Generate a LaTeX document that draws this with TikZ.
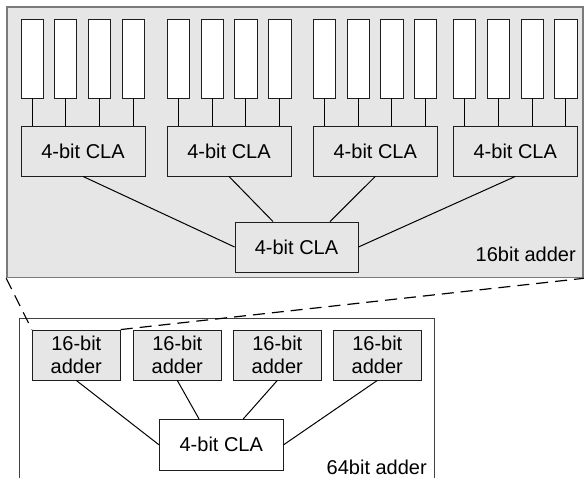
\documentclass[tikz,border=0pt]{standalone}
\usepackage{fontspec}
\setmainfont{Liberation Sans}
\usetikzlibrary{calc}
\definecolor{boxfill}{HTML}{E6E6E6}
\definecolor{outerline}{HTML}{7A7A7A}
\definecolor{darkline}{HTML}{1E1E1E}
\tikzset{
  bit/.style={draw=darkline, line width=0.9pt, fill=white, minimum width=22.5pt, minimum height=79pt, inner sep=0pt},
  cla/.style={draw=darkline, line width=0.9pt, fill=boxfill, minimum width=124pt, minimum height=50pt, inner sep=0pt, font=\fontsize{20}{23}\selectfont},
  midcla/.style={cla, minimum width=123pt},
  lowcla/.style={cla, fill=white, minimum height=50.7pt},
  adder/.style={draw=darkline, line width=0.9pt, fill=boxfill, minimum width=88pt, minimum height=50pt, inner sep=0pt, align=center, font=\fontsize{20}{23.4}\selectfont},
  wire/.style={line width=1pt, black},
  zoomline/.style={line width=1.2pt, black, dash pattern=on 12pt off 7pt},
  lbl/.style={inner sep=0pt, font=\fontsize{20}{23}\selectfont},
}
\begin{document}
\begin{tikzpicture}[x=1pt, y=-1pt]
\useasboundingbox (0,0) rectangle (584,478);
\fill[white] (0,0) rectangle (584,478);
% outer 16bit adder box
\node[draw=outerline, line width=1.6pt, fill=boxfill, minimum width=576pt, minimum height=270.5pt, inner sep=0pt] (outer) at (295,142.25) {};
% bit cells
\foreach \g/\xs in {1/{21,54.3,88.3,122.3}, 2/{167,201,234.7,268.7}, 3/{313.3,347,380.7,414.3}, 4/{453.3,487,521,554.7}} {
  \foreach \x [count=\i] in \xs {
    \node[bit] (b\g\i) at (\x+11.25,58.5) {};
  }
}
% 4-bit CLAs
\node[cla] (c1) at (83,151) {4-bit CLA};
\node[cla] (c2) at (229,151) {4-bit CLA};
\node[cla] (c3) at (375.3,151) {4-bit CLA};
\node[cla] (c4) at (515.3,151) {4-bit CLA};
\foreach \g in {1,2,3,4} {
  \foreach \i in {1,2,3,4} {
    \draw[wire] (b\g\i.south) -- (b\g\i.south |- c\g.north);
  }
}
\node[midcla] (mid) at (296.5,247) {4-bit CLA};
\draw[wire] (c1.south) -- (mid.west);
\draw[wire] (c2.south) -- ($(mid.north)+(-23.5,0)$);
\draw[wire] (c3.south) -- ($(mid.north)+(33.5,0)$);
\draw[wire] (c4.south) -- (mid.east);
\node[lbl, anchor=base east] (l16) at (576,262) {16bit adder};
% 64bit adder box
\coordinate (bl) at (19,480);
\coordinate (br) at (434,480);
\draw[draw=darkline!85, line width=1pt] (bl) -- (19,319) -- (434,319) -- (br);
\node[lbl, anchor=base east] (l64) at (427,474.5) {64bit adder};
% 16-bit adders
\node[adder] (a1) at (76.3,355) {16-bit\\adder};
\node[adder] (a2) at (177.3,355) {16-bit\\adder};
\node[adder] (a3) at (277.3,355) {16-bit\\adder};
\node[adder] (a4) at (377.3,355) {16-bit\\adder};
\node[lowcla] (low) at (221.3,444.7) {4-bit CLA};
\draw[wire] (a1.south) -- (low.west);
\draw[wire] (a2.south) -- ($(low.north)+(-22.3,0)$);
\draw[wire] (a3.south) -- ($(low.north)+(22,0)$);
\draw[wire] (a4.south) -- (low.east);
% zoom lines
\draw[zoomline] (outer.south west) -- (a1.north west);
\draw[zoomline] (a1.north east) -- (outer.south east);
\end{tikzpicture}
\end{document}
